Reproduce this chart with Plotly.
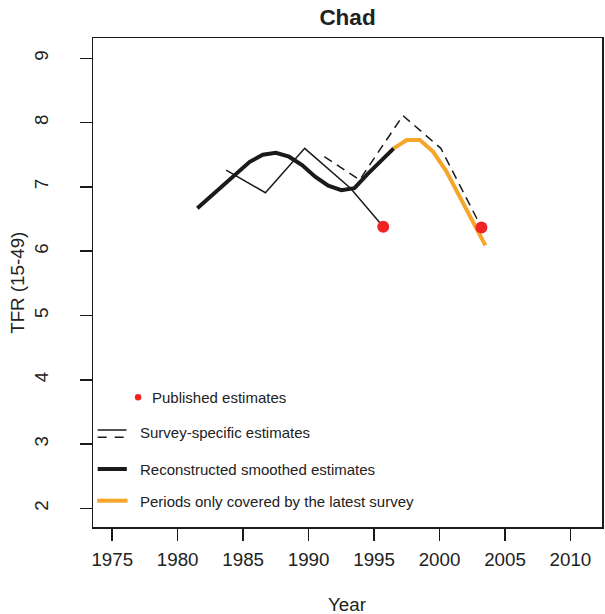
import plotly.graph_objects as go

# ---- data ----
smooth_years = [1981.5, 1982.5, 1983.5, 1984.5, 1985.5, 1986.5, 1987.5, 1988.5,
                1989.5, 1990.5, 1991.5, 1992.5, 1993.5, 1994.5, 1995.5, 1996.5]
smooth_tfr = [6.67, 6.85, 7.04, 7.22, 7.39, 7.50, 7.53, 7.47,
              7.34, 7.16, 7.02, 6.95, 6.98, 7.20, 7.41, 7.60]

latest_years = [1996.5, 1997.5, 1998.5, 1999.5, 2000.5, 2001.5, 2002.5, 2003.5]
latest_tfr = [7.60, 7.73, 7.73, 7.55, 7.25, 6.86, 6.48, 6.09]

survey1_years = [1983.7, 1986.7, 1989.7, 1993.2, 1995.7]
survey1_tfr = [7.26, 6.91, 7.60, 6.98, 6.38]

survey2_years = [1991.2, 1993.9, 1997.2, 2000.1, 2003.2]
survey2_tfr = [7.47, 7.11, 8.11, 7.60, 6.37]

published_years = [1995.7, 2003.2]
published_tfr = [6.38, 6.37]

x_ticks = [1975, 1980, 1985, 1990, 1995, 2000, 2005, 2010]
y_ticks = [2, 3, 4, 5, 6, 7, 8, 9]

legend_labels = ["Published estimates", "Survey-specific estimates",
                 "Reconstructed smoothed estimates",
                 "Periods only covered by the latest survey"]

# ---- styles ----
BLACK = "#1a1a1a"
ORANGE = "#F5A52A"
RED = "#EE2524"
TXT = "#222222"
FONT = "Liberation Sans, Arial, sans-serif"

W, H = 605, 614
BODY = 0  # page margin removed by the post script below
PL, PT, PW, PH = 93, 38, 511, 489  # plot area in window pixels


def px(x):
    return (x - PL) / PW


def py(y):
    return (PT + PH - y) / PH


fig = go.Figure()

fig.add_trace(go.Scatter(x=survey1_years, y=survey1_tfr, mode="lines",
                         line=dict(color=BLACK, width=1.5), showlegend=False))
fig.add_trace(go.Scatter(x=survey2_years, y=survey2_tfr, mode="lines",
                         line=dict(color=BLACK, width=1.5, dash="9px,6px"), showlegend=False))
fig.add_trace(go.Scatter(x=smooth_years, y=smooth_tfr, mode="lines",
                         line=dict(color=BLACK, width=4), showlegend=False))
fig.add_trace(go.Scatter(x=latest_years, y=latest_tfr, mode="lines",
                         line=dict(color=ORANGE, width=4), showlegend=False))
fig.add_trace(go.Scatter(x=published_years, y=published_tfr, mode="markers",
                         marker=dict(color=RED, size=12, line=dict(width=0)), showlegend=False))

# ---- manual legend (matching the reference's layout) ----
shapes = []
r = 3.3
shapes.append(dict(type="circle", xref="paper", yref="paper",
                   x0=px(138.3 - r), x1=px(138.3 + r), y0=py(397.3 + r), y1=py(397.3 - r),
                   fillcolor=RED, line=dict(width=0)))
shapes.append(dict(type="line", xref="paper", yref="paper",
                   x0=px(97.7), x1=px(126.7), y0=py(430), y1=py(430),
                   line=dict(color=BLACK, width=1.5)))
shapes.append(dict(type="line", xref="paper", yref="paper",
                   x0=px(97.7), x1=px(126.7), y0=py(437.3), y1=py(437.3),
                   line=dict(color=BLACK, width=1.5, dash="9px,8px")))
shapes.append(dict(type="line", xref="paper", yref="paper",
                   x0=px(97.7), x1=px(127), y0=py(469), y1=py(469),
                   line=dict(color=BLACK, width=4)))
shapes.append(dict(type="line", xref="paper", yref="paper",
                   x0=px(97.3), x1=px(127.7), y0=py(500.7), y1=py(500.7),
                   line=dict(color=ORANGE, width=4)))

legend_pos = [(150.7, 397.3), (138, 432.5), (138, 469), (138, 501)]
annotations = []
for label, (lx, ly) in zip(legend_labels, legend_pos):
    annotations.append(dict(text=label, xref="paper", yref="paper", x=px(lx), y=py(ly),
                            xanchor="left", yanchor="middle", showarrow=False,
                            font=dict(family=FONT, size=15, color=TXT)))

# axis titles
annotations.append(dict(text="Year", xref="paper", yref="paper", x=px(348), y=py(604),
                        xanchor="center", yanchor="middle", showarrow=False,
                        font=dict(family=FONT, size=18.75, color=TXT)))
annotations.append(dict(text="TFR (15-49)", xref="paper", yref="paper", x=px(17), y=py(282.5),
                        xanchor="center", yanchor="middle", showarrow=False, textangle=-90,
                        font=dict(family=FONT, size=18.75, color=TXT)))

fig.update_layout(
    width=W, height=H,
    margin=dict(l=PL - BODY, r=W - (PL - BODY) - PW, t=PT - BODY, b=H - (PT - BODY) - PH, pad=0),
    paper_bgcolor="white", plot_bgcolor="white",
    showlegend=False, hovermode=False,
    shapes=shapes, annotations=annotations,
    title=dict(text="<b>Chad</b>", x=0.5, xref="paper", xanchor="center",
               y=1 - (17 - BODY) / H, yref="container", yanchor="middle",
               font=dict(family=FONT, size=22.5, color=TXT)),
    font=dict(family=FONT, color=TXT),
)

fig.update_xaxes(range=[1973.53, 2012.41], tickvals=x_ticks,
                 ticktext=[str(v) for v in x_ticks],
                 showgrid=False, zeroline=False,
                 showline=True, mirror=True, linecolor=BLACK, linewidth=1.5,
                 ticks="outside", ticklen=12, tickwidth=1.5, tickcolor=BLACK,
                 ticklabelstandoff=3,
                 tickfont=dict(family=FONT, size=18.75, color=TXT))
fig.update_yaxes(range=[1.711, 9.316], tickvals=y_ticks,
                 ticktext=[str(v) for v in y_ticks],
                 showgrid=False, zeroline=False,
                 showline=True, mirror=True, linecolor=BLACK, linewidth=1.5,
                 ticks="outside", ticklen=12, tickwidth=1.5, tickcolor=BLACK,
                 tickangle=-90, ticklabelstandoff=24,
                 tickfont=dict(family=FONT, size=18.75, color=TXT))

fig.write_html("out.html", config={"displayModeBar": False, "staticPlot": True},
               post_script="document.body.style.margin='0';document.body.style.padding='0';")
